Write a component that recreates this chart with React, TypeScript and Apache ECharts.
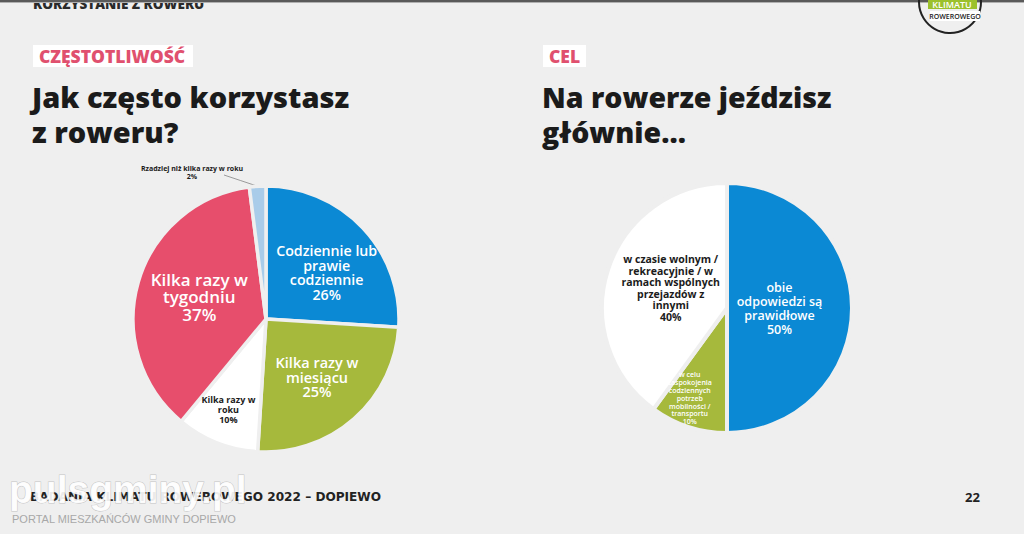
import React, { useEffect, useRef } from "react";
import * as echarts from "echarts";

// ---- data ----
const freqCategories = [
  "Codziennie lub\nprawie\ncodziennie",
  "Kilka razy w\nmiesiącu",
  "Kilka razy w\nroku",
  "Kilka razy w\ntygodniu",
  "Rzadziej niż kilka razy w roku",
];
const freqValues = [26, 25, 10, 37, 2];

const goalCategories = [
  "obie\nodpowiedzi są\nprawidłowe",
  "w celu\nzaspokojenia\ncodziennych\npotrzeb\nmobilności /\ntransportu",
  "w czasie wolnym /\nrekreacyjnie / w\nramach wspólnych\nprzejazdów z\ninnymi",
];
const goalValues = [50, 10, 40];

const BG = "#efefef";
const BLUE = "#0b89d4";
const GREEN = "#a6b93c";
const RED = "#e74e6c";
const LIGHTBLUE = "#a9cce9";
const WHITE = "#ffffff";
const DARK = "#1b1b1b";
const FONT = "'Open Sans', 'Noto Sans', sans-serif";
const WIDE = "'DejaVu Sans', 'Open Sans', sans-serif";

export default function App() {
  const ref = useRef<HTMLDivElement>(null);
  useEffect(() => {
    document.body.style.margin = "0";
    document.body.style.background = BG;
    const chart = echarts.init(ref.current!, null, { renderer: "svg" });

    const lab = (color: string, size: number, lh: number, weight: any, offset: number[]) => ({
      show: true,
      position: "inside",
      color,
      fontSize: size,
      lineHeight: lh,
      fontWeight: weight,
      fontFamily: FONT,
      offset,
      formatter: (p: any) => `${p.name}\n${p.value}%`,
    });

    const freqColors = [BLUE, GREEN, WHITE, RED, LIGHTBLUE];
    const freqLabels = [
      lab(WHITE, 14.2, 14.5, 600, [10, 1]),
      lab(WHITE, 14.5, 14.5, 600, [5, 6]),
      lab(DARK, 9, 10, 700, [-12, 26]),
      lab(WHITE, 17, 17.5, 600, [0, -3]),
      {
        show: true,
        position: "outside",
        color: DARK,
        fontSize: 7,
        lineHeight: 8,
        fontWeight: 700,
        fontFamily: FONT,
        align: "center",
        formatter: (p: any) => `${p.name}\n${p.value}%`,
      },
    ];

    const goalColors = [BLUE, GREEN, WHITE];
    const goalLabels = [
      lab(WHITE, 12.5, 14, 600, [-13, 0]),
      lab(WHITE, 7, 7.8, 600, [-17, 28]),
      lab(DARK, 10.5, 11.5, 700, [6, 0]),
    ];

    chart.setOption({
      animation: false,
      backgroundColor: BG,
      series: [
        {
          type: "pie",
          center: [266, 319],
          radius: [0, 133],
          startAngle: 90,
          clockwise: true,
          silent: true,
          itemStyle: { borderColor: BG, borderWidth: 3.5 },
          labelLine: { show: true, length: 8, length2: 20, lineStyle: { color: "#9a9a9a", width: 1 } },
          labelLayout: (p: any) => {
            if (p.dataIndex !== 4) return {};
            const pts = p.labelLinePoints;
            const start = pts && pts[0] ? pts[0] : [257, 186];
            const end = [224, 175];
            return {
              x: 192,
              y: 172,
              align: "center",
              verticalAlign: "middle",
              labelLinePoints: [start, [(start[0] + end[0]) / 2, (start[1] + end[1]) / 2], end],
            };
          },
          data: freqCategories.map((name, i) => ({
            name,
            value: freqValues[i],
            itemStyle: { color: freqColors[i] },
            label: freqLabels[i],
            labelLine: { show: i === 4 },
          })),
        },
        {
          type: "pie",
          center: [727, 308],
          radius: [0, 125],
          startAngle: 90,
          clockwise: true,
          silent: true,
          itemStyle: { borderColor: BG, borderWidth: 4 },
          labelLine: { show: false },
          data: goalCategories.map((name, i) => ({
            name,
            value: goalValues[i],
            itemStyle: { color: goalColors[i] },
            label: goalLabels[i],
          })),
        },
      ],
      graphic: [
        // top header
        {
          type: "text",
          x: 33,
          y: -3,
          style: { text: "KORZYSTANIE Z ROWERU", font: `800 13.5px ${FONT}`, fill: "#2a2a2a" },
        },
        { type: "rect", shape: { x: 0, y: 0, width: 1024, height: 2 }, style: { fill: "#5a5a5a" } },
        { type: "rect", shape: { x: 0, y: 2, width: 1024, height: 1 }, style: { fill: "#b0b0b0" } },
        // logo
        {
          type: "circle",
          shape: { cx: 950, cy: 2, r: 31 },
          style: { fill: "none", stroke: "#222", lineWidth: 2 },
        },
        { type: "rect", shape: { x: 928, y: 0, width: 49, height: 9 }, style: { fill: "#9cc12c" } },
        {
          type: "text",
          x: 952,
          y: 4,
          style: { text: "KLIMATU", font: `600 9px ${FONT}`, fill: "#fff", align: "center", verticalAlign: "middle" },
        },
        { type: "rect", shape: { x: 930, y: 11, width: 50, height: 10 }, style: { fill: "#ffffff" } },
        {
          type: "text",
          x: 955,
          y: 16.5,
          style: { text: "ROWEROWEGO", font: `600 7px ${FONT}`, fill: "#222", align: "center", verticalAlign: "middle" },
        },
        // section tags
        { type: "rect", shape: { x: 33, y: 45, width: 160, height: 22 }, style: { fill: "#ffffff" } },
        {
          type: "text",
          x: 112,
          y: 56,
          style: { text: "CZĘSTOTLIWOŚĆ", font: `800 17.5px ${FONT}`, fill: "#e0506e", align: "center", verticalAlign: "middle" },
        },
        { type: "rect", shape: { x: 543, y: 45, width: 43, height: 22 }, style: { fill: "#ffffff" } },
        {
          type: "text",
          x: 564.5,
          y: 56,
          style: { text: "CEL", font: `800 17.5px ${FONT}`, fill: "#e0506e", align: "center", verticalAlign: "middle" },
        },
        // titles
        {
          type: "text",
          x: 32,
          y: 79,
          style: { text: "Jak często korzystasz\nz roweru?", font: `800 29px ${FONT}`, lineHeight: 35, fill: DARK },
        },
        {
          type: "text",
          x: 542,
          y: 79,
          style: { text: "Na rowerze jeździsz\ngłównie...", font: `800 28.5px ${FONT}`, lineHeight: 35, fill: DARK },
        },
        // footer
        {
          type: "text",
          x: 30,
          y: 497,
          style: {
            text: "BADANIA KLIMATU ROWEROWEGO 2022 – DOPIEWO",
            font: `600 12.1px ${WIDE}`,
            fill: "#222",
            verticalAlign: "middle",
          },
        },
        {
          type: "text",
          x: 965,
          y: 497,
          style: { text: "22", font: `700 13px ${FONT}`, fill: "#222", verticalAlign: "middle" },
        },
        // watermark
        {
          type: "text",
          x: 9,
          y: 470,
          style: {
            text: "pulsgminy.pl",
            font: `700 39px 'Liberation Sans', Arial, sans-serif`,
            fill: "rgba(255,255,255,0.92)",
            stroke: "rgba(150,150,150,0.5)",
            lineWidth: 1,
          },
        },
        {
          type: "text",
          x: 12,
          y: 513,
          style: {
            text: "PORTAL MIESZKAŃCÓW GMINY DOPIEWO",
            font: `400 11px 'Liberation Sans', Arial, sans-serif`,
            fill: "#a8a8a8",
          },
        },
      ],
    });
    return () => chart.dispose();
  }, []);
  return <div ref={ref} style={{ width: 1024, height: 534 }} />;
}
